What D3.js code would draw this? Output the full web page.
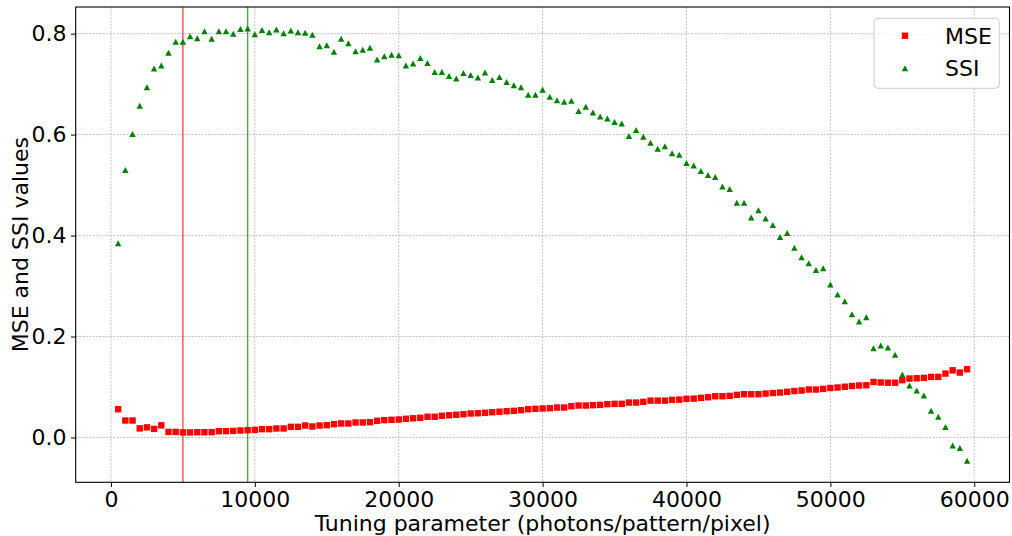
<!DOCTYPE html>
<html>
<head>
<meta charset="utf-8">
<script src="https://cdn.jsdelivr.net/npm/d3@7/dist/d3.min.js"></script>
<style>
  html, body { margin: 0; padding: 0; background: #fff; }
  svg { display: block; font-family: "DejaVu Sans", sans-serif; }
</style>
</head>
<body>
<svg id="chart" width="1012" height="536"></svg>
<script>
// Tuning parameter samples (photons/pattern/pixel)
const tuning = [
  500, 1000, 1500, 2000, 2500, 3000, 3500, 4000, 4500, 5000,
  5500, 6000, 6500, 7000, 7500, 8000, 8500, 9000, 9500, 10000,
  10500, 11000, 11500, 12000, 12500, 13000, 13500, 14000, 14500, 15000,
  15500, 16000, 16500, 17000, 17500, 18000, 18500, 19000, 19500, 20000,
  20500, 21000, 21500, 22000, 22500, 23000, 23500, 24000, 24500, 25000,
  25500, 26000, 26500, 27000, 27500, 28000, 28500, 29000, 29500, 30000,
  30500, 31000, 31500, 32000, 32500, 33000, 33500, 34000, 34500, 35000,
  35500, 36000, 36500, 37000, 37500, 38000, 38500, 39000, 39500, 40000,
  40500, 41000, 41500, 42000, 42500, 43000, 43500, 44000, 44500, 45000,
  45500, 46000, 46500, 47000, 47500, 48000, 48500, 49000, 49500, 50000,
  50500, 51000, 51500, 52000, 52500, 53000, 53500, 54000, 54500, 55000,
  55500, 56000, 56500, 57000, 57500, 58000, 58500, 59000, 59500
];

// Mean squared error at each tuning value
const mse = [
  0.056, 0.0336, 0.0336, 0.018, 0.020, 0.017, 0.024, 0.011, 0.011, 0.010,
  0.010, 0.0105, 0.0105, 0.0105, 0.0125, 0.0125, 0.013, 0.0138, 0.0145, 0.015,
  0.0165, 0.0165, 0.0178, 0.0178, 0.021, 0.021, 0.0237, 0.0218, 0.0237, 0.0244,
  0.0264, 0.0277, 0.0277, 0.0297, 0.0297, 0.0303, 0.033, 0.0343, 0.035, 0.0356,
  0.037, 0.038, 0.039, 0.041, 0.041, 0.043, 0.044, 0.045, 0.046, 0.0475,
  0.048, 0.049, 0.050, 0.051, 0.052, 0.0528, 0.054, 0.056, 0.0567, 0.0574,
  0.058, 0.0593, 0.0593, 0.062, 0.0633, 0.0633, 0.064, 0.0646, 0.066, 0.0666,
  0.0666, 0.0692, 0.0692, 0.0706, 0.073, 0.073, 0.073, 0.0745, 0.075, 0.0765,
  0.077, 0.0785, 0.0797, 0.0817, 0.0817, 0.0824, 0.0844, 0.0857, 0.0857, 0.0857,
  0.087, 0.088, 0.089, 0.0905, 0.092, 0.093, 0.095, 0.095, 0.0963, 0.098,
  0.099, 0.1005, 0.102, 0.103, 0.1035, 0.110, 0.109, 0.1085, 0.1085, 0.1134,
  0.1167, 0.1173, 0.118, 0.120, 0.120, 0.1266, 0.133, 0.1286, 0.1352
];

// Structural similarity index at each tuning value
const ssi = [
  0.385, 0.530, 0.601, 0.657, 0.694, 0.731, 0.737, 0.762, 0.784, 0.784,
  0.795, 0.791, 0.805, 0.790, 0.805, 0.805, 0.800, 0.809, 0.810, 0.799,
  0.807, 0.803, 0.808, 0.801, 0.806, 0.803, 0.802, 0.798, 0.775, 0.777,
  0.764, 0.790, 0.781, 0.765, 0.768, 0.772, 0.749, 0.755, 0.758, 0.757,
  0.737, 0.741, 0.752, 0.742, 0.724, 0.724, 0.716, 0.711, 0.722, 0.718,
  0.713, 0.723, 0.708, 0.714, 0.704, 0.698, 0.694, 0.679, 0.679, 0.689,
  0.675, 0.668, 0.665, 0.667, 0.647, 0.655, 0.644, 0.636, 0.632, 0.625,
  0.622, 0.597, 0.609, 0.596, 0.584, 0.572, 0.577, 0.563, 0.560, 0.544,
  0.539, 0.528, 0.520, 0.516, 0.497, 0.492, 0.465, 0.465, 0.436, 0.450,
  0.434, 0.421, 0.397, 0.405, 0.376, 0.357, 0.345, 0.332, 0.335, 0.303,
  0.283, 0.270, 0.244, 0.230, 0.238, 0.177, 0.182, 0.178, 0.164, 0.125,
  0.103, 0.093, 0.083, 0.053, 0.041, 0.021, -0.016, -0.021, -0.046
];

// Reference positions: minimum MSE and maximum SSI
const bestMse = 5000;
const bestSsi = 9500;

const xTicks = [0, 10000, 20000, 30000, 40000, 50000, 60000];
const yTicks = [0.0, 0.2, 0.4, 0.6, 0.8];

const legendItems = ["MSE", "SSI"];

const svg = d3.select("#chart");
const plotL = 75.7, plotR = 1009.5, plotT = 7, plotB = 482.3;
const fontSize = 22;

// Data range padded by 5% on each side
const xMin = d3.min(tuning), xMax = d3.max(tuning);
const xPad = (xMax - xMin) * 0.05;
const yAll = mse.concat(ssi);
const yMin = d3.min(yAll), yMax = d3.max(yAll);
const yPad = (yMax - yMin) * 0.05;

const x = d3.scaleLinear().domain([xMin - xPad, xMax + xPad]).range([plotL, plotR]);
const y = d3.scaleLinear().domain([yMin - yPad, yMax + yPad]).range([plotB, plotT]);

// Grid
const grid = svg.append("g").attr("stroke", "#b0b0b0").attr("stroke-width", 0.8)
  .attr("stroke-dasharray", "2,1.4");
grid.selectAll("line.gx").data(xTicks).join("line").attr("class", "gx")
  .attr("x1", d => x(d)).attr("x2", d => x(d)).attr("y1", plotT).attr("y2", plotB);
grid.selectAll("line.gy").data(yTicks).join("line").attr("class", "gy")
  .attr("y1", d => y(d)).attr("y2", d => y(d)).attr("x1", plotL).attr("x2", plotR);

// Vertical marker lines
svg.append("line")
  .attr("x1", x(bestMse)).attr("x2", x(bestMse)).attr("y1", plotT).attr("y2", plotB)
  .attr("stroke", "#ff0000").attr("stroke-opacity", 0.7).attr("stroke-width", 1.4);
svg.append("line")
  .attr("x1", x(bestSsi)).attr("x2", x(bestSsi)).attr("y1", plotT).attr("y2", plotB)
  .attr("stroke", "#008000").attr("stroke-opacity", 0.7).attr("stroke-width", 1.4);

// Marker shapes
const sq = 6.4;
const triW = 6.4, triH = 6.0;
const triPath = (cx, cy) =>
  `M${cx},${cy - triH / 2}L${cx + triW / 2},${cy + triH / 2}L${cx - triW / 2},${cy + triH / 2}Z`;

const pts = tuning.map((t, i) => ({ t, m: mse[i], s: ssi[i] }));

svg.append("g").selectAll("rect").data(pts).join("rect")
  .attr("x", d => x(d.t) - sq / 2).attr("y", d => y(d.m) - sq / 2)
  .attr("width", sq).attr("height", sq).attr("fill", "#ff0000");

svg.append("g").selectAll("path").data(pts).join("path")
  .attr("d", d => triPath(x(d.t), y(d.s))).attr("fill", "#008000");

// Axes
const xAxis = d3.axisBottom(x).tickValues(xTicks).tickFormat(d3.format("d"))
  .tickSize(4.7).tickPadding(4.5);
const yAxis = d3.axisLeft(y).tickValues(yTicks).tickFormat(d3.format(".1f"))
  .tickSize(4.7).tickPadding(4.5);

const gx = svg.append("g").attr("transform", `translate(0,${plotB})`).call(xAxis);
const gy = svg.append("g").attr("transform", `translate(${plotL},0)`).call(yAxis);
[gx, gy].forEach(g => {
  g.select(".domain").remove();
  g.selectAll(".tick line").attr("stroke", "#000").attr("stroke-width", 1);
  g.selectAll(".tick text").attr("fill", "#000")
    .style("font-family", "DejaVu Sans").style("font-size", fontSize + "px");
});

// Frame
svg.append("rect").attr("x", plotL).attr("y", plotT)
  .attr("width", plotR - plotL).attr("height", plotB - plotT)
  .attr("fill", "none").attr("stroke", "#000").attr("stroke-width", 1.1);

// Axis titles
svg.append("text").attr("x", (plotL + plotR) / 2).attr("y", 531)
  .attr("text-anchor", "middle").style("font-size", fontSize + "px")
  .text("Tuning parameter (photons/pattern/pixel)");
svg.append("text").attr("transform", `translate(28,${(plotT + plotB) / 2}) rotate(-90)`)
  .attr("text-anchor", "middle").style("font-size", fontSize + "px")
  .text("MSE and SSI values");

// Legend
const lg = svg.append("g");
lg.append("rect").attr("x", 874).attr("y", 18.3).attr("width", 125.3).attr("height", 70)
  .attr("rx", 4).attr("fill", "#fff").attr("fill-opacity", 0.8)
  .attr("stroke", "#cccccc").attr("stroke-width", 1);
const rowY = [35.7, 68.3];
legendItems.forEach((name, i) => {
  if (i === 0) {
    lg.append("rect").attr("x", 905 - sq / 2).attr("y", rowY[i] - sq / 2)
      .attr("width", sq).attr("height", sq).attr("fill", "#ff0000");
  } else {
    lg.append("path").attr("d", triPath(905, rowY[i])).attr("fill", "#008000");
  }
  lg.append("text").attr("x", 945).attr("y", rowY[i]).attr("dy", "0.36em")
    .style("font-size", fontSize + "px").text(name);
});
</script>
</body>
</html>
